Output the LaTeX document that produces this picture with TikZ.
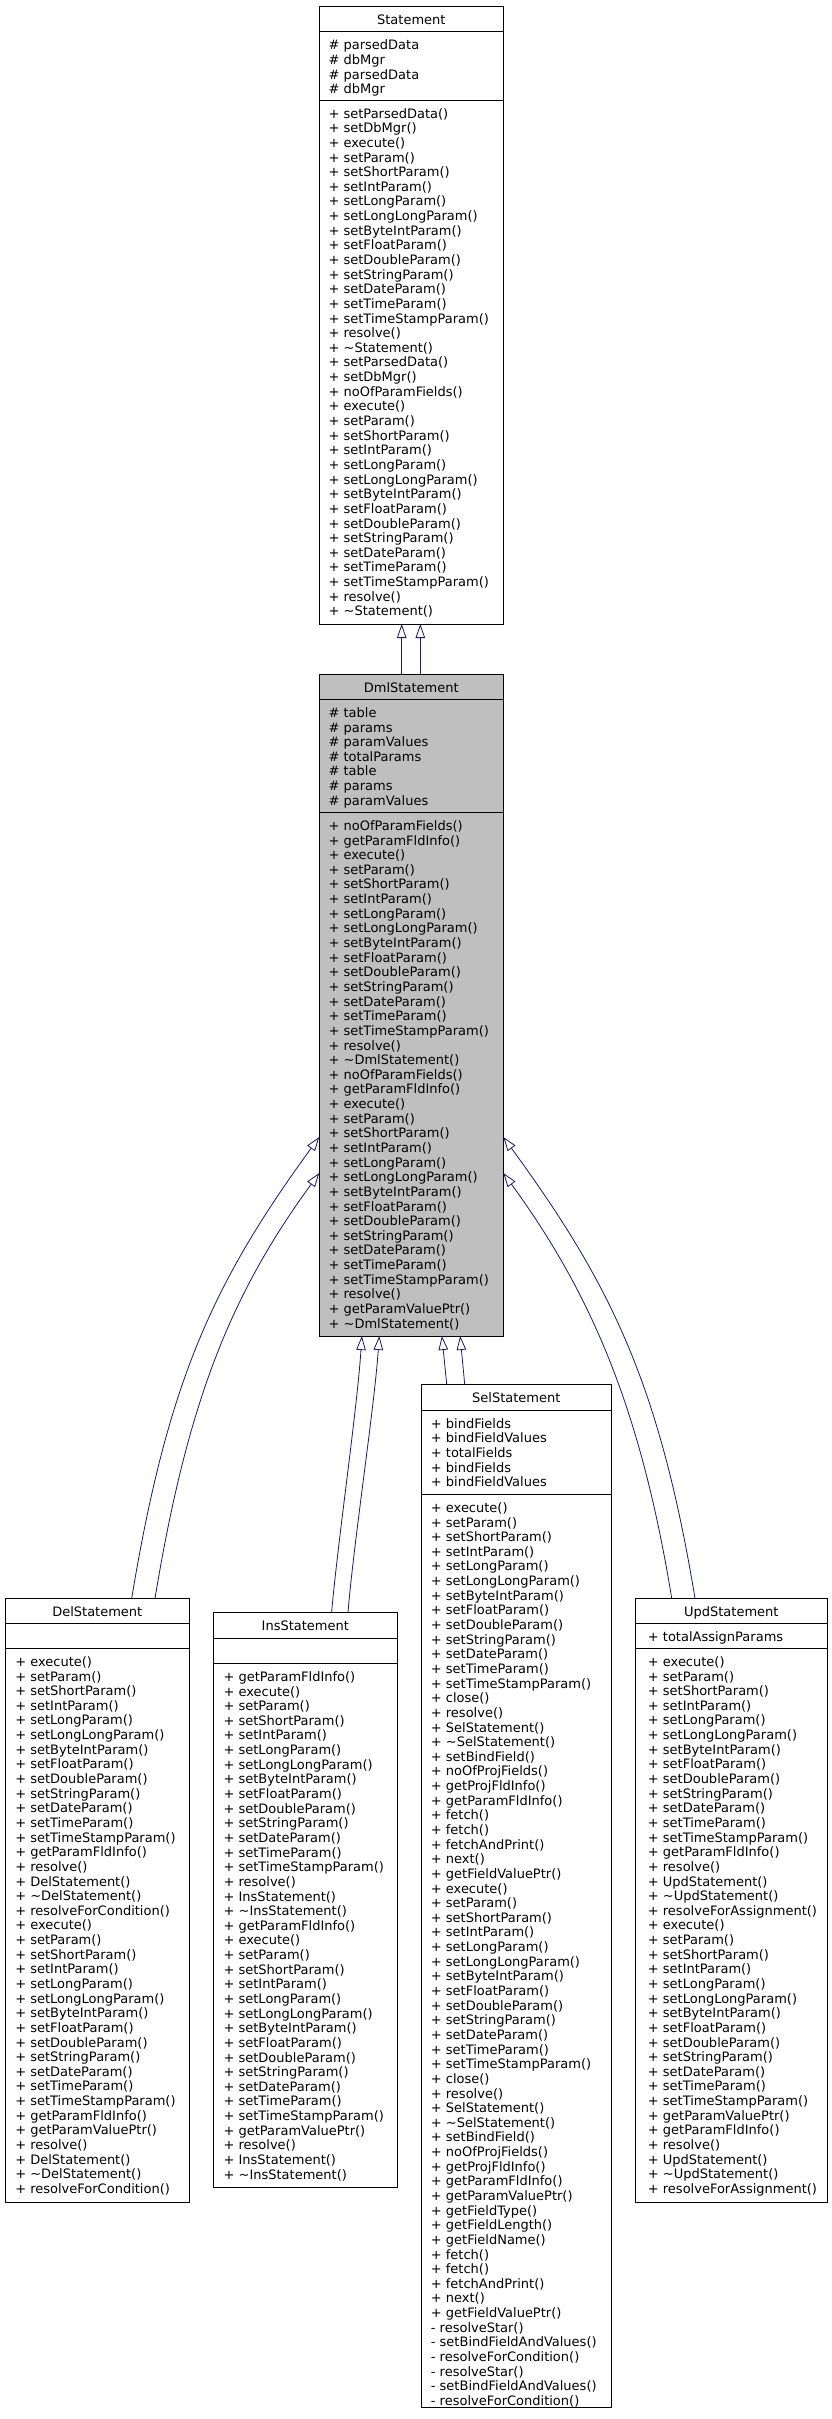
\documentclass[tikz,border=0pt]{standalone}
\usepackage{fontspec}
\setmainfont{DejaVu Sans}
\usetikzlibrary{arrows.meta}
\definecolor{edgeblue}{HTML}{191970}
\definecolor{dmlgray}{HTML}{BFBFBF}
\newcommand\classrows[4]{%
  \foreach \t [count=\i] in {#4} {
    \node[rowtext] (#1-\i) at (#2, {#3+18.1+14.64*(\i-1)}) {\t};
  }}
\tikzset{
  cls/.style={draw=black, line width=0.8pt, fill=white, inner sep=0pt, outer sep=0pt, anchor=north west},
  div/.style={draw=black, line width=0.8pt},
  rowtext/.style={anchor=base west, inner sep=0pt, outer sep=0pt, font=\fontsize{13}{15}\selectfont},
  titletext/.style={anchor=base, inner sep=0pt, outer sep=0pt, font=\fontsize{13}{15}\selectfont},
  inh/.style={draw=edgeblue, line width=0.8pt, -{Triangle[open, length=14pt, width=9.5pt, line width=0.8pt]}}
}
\begin{document}
\begin{tikzpicture}[x=1pt, y=-1pt]
\useasboundingbox[fill=white] (0,0) rectangle (832,2419);

% ---------------- Statement ----------------
\node[cls, minimum width=184pt, minimum height=618pt] (stmt) at (319.3,6) {};
\draw[div] (319.3,31.7) -- (503.3,31.7);
\draw[div] (319.3,100) -- (503.3,100);
\node[titletext] (stmt-title) at (411.3,24.1) {Statement};
\classrows{stmta}{328.6}{31.7}{\# parsedData, \# dbMgr, \# parsedData, \# dbMgr}
\classrows{stmtm}{328.6}{100}{+ setParsedData(), + setDbMgr(), + execute(), + setParam(), + setShortParam(), + setIntParam(), + setLongParam(), + setLongLongParam(), + setByteIntParam(), + setFloatParam(), + setDoubleParam(), + setStringParam(), + setDateParam(), + setTimeParam(), + setTimeStampParam(), + resolve(), + \textasciitilde Statement(), + setParsedData(), + setDbMgr(), + noOfParamFields(), + execute(), + setParam(), + setShortParam(), + setIntParam(), + setLongParam(), + setLongLongParam(), + setByteIntParam(), + setFloatParam(), + setDoubleParam(), + setStringParam(), + setDateParam(), + setTimeParam(), + setTimeStampParam(), + resolve(), + \textasciitilde Statement()}

% ---------------- DmlStatement ----------------
\node[cls, fill=dmlgray, minimum width=184pt, minimum height=661.7pt] (dml) at (319.3,674.3) {};
\draw[div] (319.3,699.3) -- (503.3,699.3);
\draw[div] (319.3,812.3) -- (503.3,812.3);
\node[titletext] (dml-title) at (411.3,692.4) {DmlStatement};
\classrows{dmla}{328.6}{699.3}{\# table, \# params, \# paramValues, \# totalParams, \# table, \# params, \# paramValues}
\classrows{dmlm}{328.6}{812.3}{+ noOfParamFields(), + getParamFldInfo(), + execute(), + setParam(), + setShortParam(), + setIntParam(), + setLongParam(), + setLongLongParam(), + setByteIntParam(), + setFloatParam(), + setDoubleParam(), + setStringParam(), + setDateParam(), + setTimeParam(), + setTimeStampParam(), + resolve(), + \textasciitilde DmlStatement(), + noOfParamFields(), + getParamFldInfo(), + execute(), + setParam(), + setShortParam(), + setIntParam(), + setLongParam(), + setLongLongParam(), + setByteIntParam(), + setFloatParam(), + setDoubleParam(), + setStringParam(), + setDateParam(), + setTimeParam(), + setTimeStampParam(), + resolve(), + getParamValuePtr(), + \textasciitilde DmlStatement()}

% ---------------- DelStatement ----------------
\node[cls, minimum width=184pt, minimum height=604pt] (del) at (5.3,1598.3) {};
\draw[div] (5.3,1623.3) -- (189.3,1623.3);
\draw[div] (5.3,1648.3) -- (189.3,1648.3);
\node[titletext] (del-title) at (97.3,1616.4) {DelStatement};
\classrows{delm}{15.3}{1648.3}{+ execute(), + setParam(), + setShortParam(), + setIntParam(), + setLongParam(), + setLongLongParam(), + setByteIntParam(), + setFloatParam(), + setDoubleParam(), + setStringParam(), + setDateParam(), + setTimeParam(), + setTimeStampParam(), + getParamFldInfo(), + resolve(), + DelStatement(), + \textasciitilde DelStatement(), + resolveForCondition(), + execute(), + setParam(), + setShortParam(), + setIntParam(), + setLongParam(), + setLongLongParam(), + setByteIntParam(), + setFloatParam(), + setDoubleParam(), + setStringParam(), + setDateParam(), + setTimeParam(), + setTimeStampParam(), + getParamFldInfo(), + getParamValuePtr(), + resolve(), + DelStatement(), + \textasciitilde DelStatement(), + resolveForCondition()}

% ---------------- InsStatement ----------------
\node[cls, minimum width=184pt, minimum height=575.3pt] (ins) at (213.3,1612.3) {};
\draw[div] (213.3,1638.3) -- (397.3,1638.3);
\draw[div] (213.3,1663.3) -- (397.3,1663.3);
\node[titletext] (ins-title) at (305.3,1630.2) {InsStatement};
\classrows{insm}{223.6}{1663.3}{+ getParamFldInfo(), + execute(), + setParam(), + setShortParam(), + setIntParam(), + setLongParam(), + setLongLongParam(), + setByteIntParam(), + setFloatParam(), + setDoubleParam(), + setStringParam(), + setDateParam(), + setTimeParam(), + setTimeStampParam(), + resolve(), + InsStatement(), + \textasciitilde InsStatement(), + getParamFldInfo(), + execute(), + setParam(), + setShortParam(), + setIntParam(), + setLongParam(), + setLongLongParam(), + setByteIntParam(), + setFloatParam(), + setDoubleParam(), + setStringParam(), + setDateParam(), + setTimeParam(), + setTimeStampParam(), + getParamValuePtr(), + resolve(), + InsStatement(), + \textasciitilde InsStatement()}

% ---------------- SelStatement ----------------
\node[cls, minimum width=189.3pt, minimum height=1023pt] (sel) at (421.7,1384.3) {};
\draw[div] (421.7,1410) -- (611,1410);
\draw[div] (421.7,1494.3) -- (611,1494.3);
\node[titletext] (sel-title) at (516.3,1402.2) {SelStatement};
\classrows{sela}{430.9}{1410}{+ bindFields, + bindFieldValues, + totalFields, + bindFields, + bindFieldValues}
\classrows{selm}{430.9}{1494.3}{+ execute(), + setParam(), + setShortParam(), + setIntParam(), + setLongParam(), + setLongLongParam(), + setByteIntParam(), + setFloatParam(), + setDoubleParam(), + setStringParam(), + setDateParam(), + setTimeParam(), + setTimeStampParam(), + close(), + resolve(), + SelStatement(), + \textasciitilde SelStatement(), + setBindField(), + noOfProjFields(), + getProjFldInfo(), + getParamFldInfo(), + fetch(), + fetch(), + fetchAndPrint(), + next(), + getFieldValuePtr(), + execute(), + setParam(), + setShortParam(), + setIntParam(), + setLongParam(), + setLongLongParam(), + setByteIntParam(), + setFloatParam(), + setDoubleParam(), + setStringParam(), + setDateParam(), + setTimeParam(), + setTimeStampParam(), + close(), + resolve(), + SelStatement(), + \textasciitilde SelStatement(), + setBindField(), + noOfProjFields(), + getProjFldInfo(), + getParamFldInfo(), + getParamValuePtr(), + getFieldType(), + getFieldLength(), + getFieldName(), + fetch(), + fetch(), + fetchAndPrint(), + next(), + getFieldValuePtr(), - resolveStar(), - setBindFieldAndValues(), - resolveForCondition(), - resolveStar(), - setBindFieldAndValues(), - resolveForCondition()}

% ---------------- UpdStatement ----------------
\node[cls, minimum width=192.7pt, minimum height=604pt] (upd) at (635,1598.3) {};
\draw[div] (635,1623.3) -- (827.7,1623.3);
\draw[div] (635,1648.3) -- (827.7,1648.3);
\node[titletext] (upd-title) at (731.3,1616.4) {UpdStatement};
\classrows{upda}{647.9}{1623.3}{+ totalAssignParams}
\classrows{updm}{647.9}{1648.3}{+ execute(), + setParam(), + setShortParam(), + setIntParam(), + setLongParam(), + setLongLongParam(), + setByteIntParam(), + setFloatParam(), + setDoubleParam(), + setStringParam(), + setDateParam(), + setTimeParam(), + setTimeStampParam(), + getParamFldInfo(), + resolve(), + UpdStatement(), + \textasciitilde UpdStatement(), + resolveForAssignment(), + execute(), + setParam(), + setShortParam(), + setIntParam(), + setLongParam(), + setLongLongParam(), + setByteIntParam(), + setFloatParam(), + setDoubleParam(), + setStringParam(), + setDateParam(), + setTimeParam(), + setTimeStampParam(), + getParamValuePtr(), + getParamFldInfo(), + resolve(), + UpdStatement(), + \textasciitilde UpdStatement(), + resolveForAssignment()}

% ---------------- Inheritance edges ----------------
% DmlStatement -> Statement
\draw[inh] ([xshift=82.4pt]dml.north west) -- ([xshift=82.4pt]stmt.south west);
\draw[inh] ([xshift=101pt]dml.north west) -- ([xshift=101pt]stmt.south west);
% InsStatement -> DmlStatement
\draw[inh] ([xshift=118.3pt]ins.north west) .. controls (338,1540) and (357,1410) .. ([xshift=42.6pt]dml.south west);
\draw[inh] ([xshift=134.7pt]ins.north west) .. controls (354,1540) and (374,1410) .. ([xshift=60pt]dml.south west);
% SelStatement -> DmlStatement
\draw[inh] ([xshift=25pt]sel.north west) -- ([xshift=122.6pt]dml.south west);
\draw[inh] ([xshift=43pt]sel.north west) -- ([xshift=140.8pt]dml.south west);
% DelStatement -> DmlStatement
\draw[inh] ([xshift=126.4pt]del.north west) .. controls (167.6,1381.2) and (213.1,1282.8) .. ([yshift=-462.7pt]dml.north west);
\draw[inh] ([xshift=149.7pt]del.north west) .. controls (187.6,1400.9) and (230.8,1294.5) .. ([yshift=-498.7pt]dml.north west);
% UpdStatement -> DmlStatement
\draw[inh] ([xshift=60pt]upd.north west) .. controls (659.1,1381.2) and (609.5,1282.8) .. ([yshift=-462.7pt]dml.north east);
\draw[inh] ([xshift=36.7pt]upd.north west) .. controls (641,1410) and (591.8,1294.5) .. ([yshift=-498.7pt]dml.north east);
\end{tikzpicture}
\end{document}
